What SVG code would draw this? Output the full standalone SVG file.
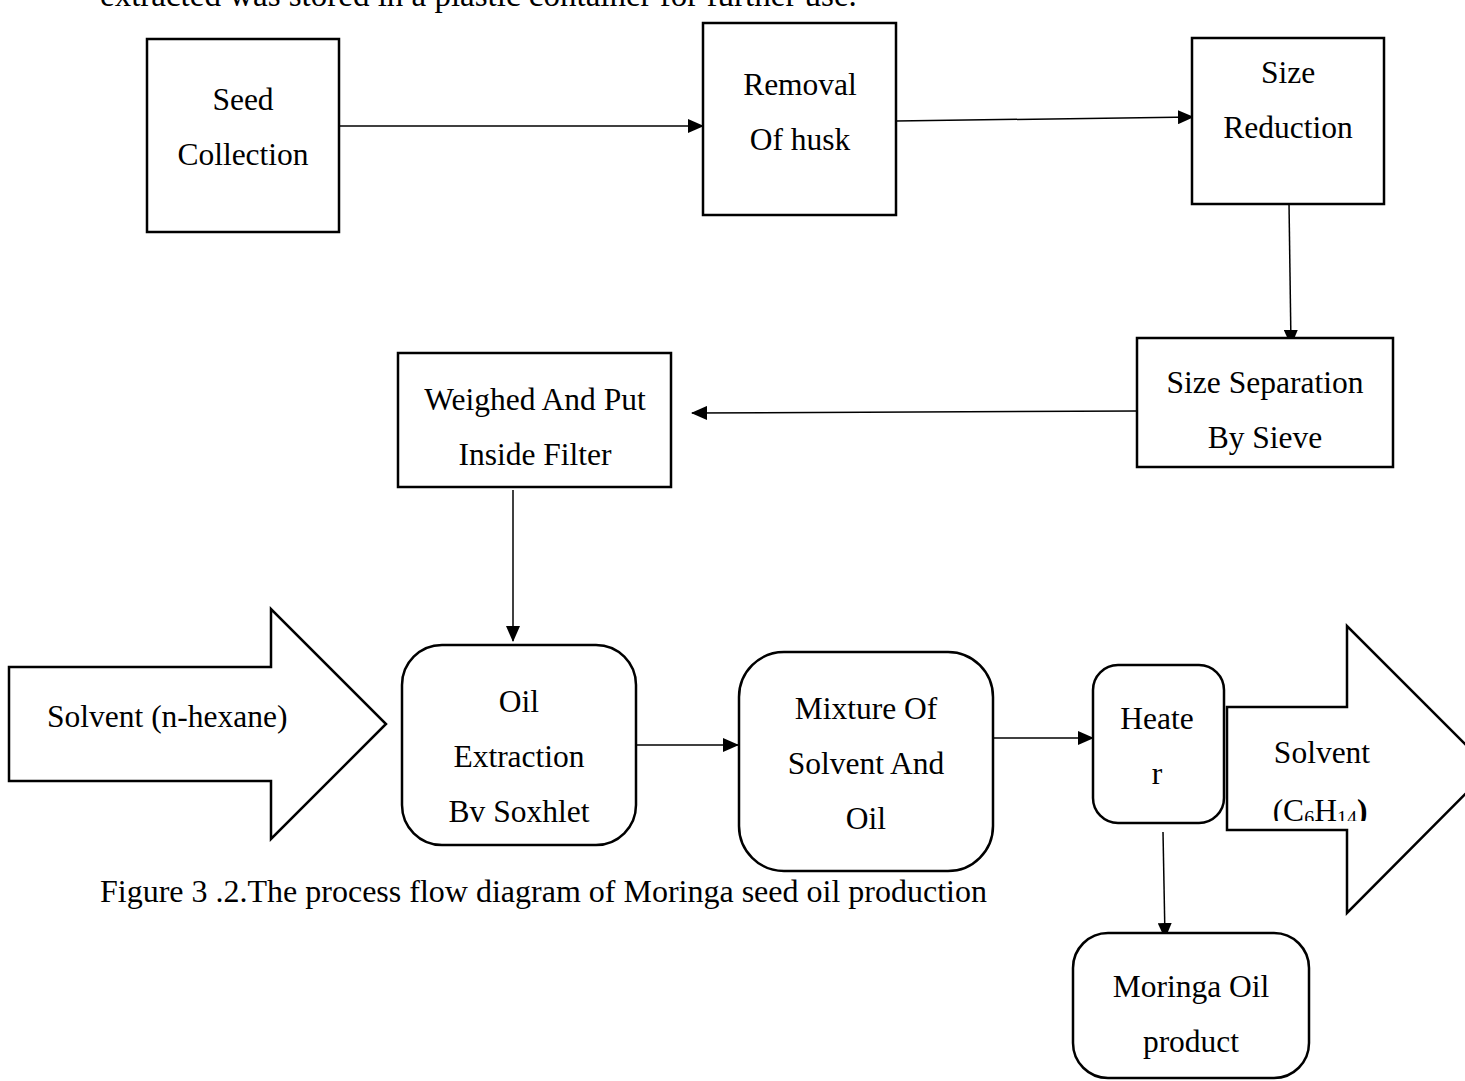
<svg xmlns="http://www.w3.org/2000/svg" width="1465" height="1081" viewBox="0 0 1465 1081">
<style>
text{font-family:"Liberation Serif","Times New Roman",serif;font-size:31.5px;fill:#000}
.c{text-anchor:middle}
.para{font-size:33px}
.box{fill:#fff;stroke:#000;stroke-width:2.5}
.conn{fill:none;stroke:#000;stroke-width:1.5}
</style>
<defs>
<marker id="ah" markerUnits="userSpaceOnUse" markerWidth="16" markerHeight="14" refX="15" refY="7" orient="auto">
<path d="M0,0 L16,7 L0,14 Z" fill="#000"/>
</marker>
<clipPath id="clipC"><rect x="1226" y="700" width="240" height="121"/></clipPath>
</defs>
<rect width="1465" height="1081" fill="#fff"/>
<text class="para" x="100" y="6">extracted was stored in a plastic container for further use.</text>

<g id="connectors">
<line class="conn" x1="339" y1="126" x2="703" y2="126" marker-end="url(#ah)"/>
<line class="conn" x1="896" y1="121" x2="1193" y2="117" marker-end="url(#ah)"/>
<line class="conn" x1="1289" y1="203" x2="1291" y2="345" marker-end="url(#ah)"/>
<line class="conn" x1="1137" y1="411" x2="692" y2="413" marker-end="url(#ah)"/>
<line class="conn" x1="513" y1="490" x2="513" y2="641" marker-end="url(#ah)"/>
<line class="conn" x1="636" y1="745" x2="738" y2="745" marker-end="url(#ah)"/>
<line class="conn" x1="993" y1="738" x2="1093" y2="738" marker-end="url(#ah)"/>
<line class="conn" x1="1163" y1="832" x2="1165" y2="938" marker-end="url(#ah)"/>
</g>

<g id="seed-collection">
<rect class="box" x="147" y="39" width="192" height="193"/>
<text class="c" x="243" y="110">Seed</text>
<text class="c" x="243" y="165">Collection</text>
</g>
<g id="removal-of-husk">
<rect class="box" x="703" y="23" width="193" height="192"/>
<text class="c" x="800" y="95">Removal</text>
<text class="c" x="800" y="150">Of husk</text>
</g>
<g id="size-reduction">
<rect class="box" x="1192" y="38" width="192" height="166"/>
<text class="c" x="1288" y="83">Size</text>
<text class="c" x="1288" y="138">Reduction</text>
</g>
<g id="size-separation">
<rect class="box" x="1137" y="338" width="256" height="129"/>
<text class="c" x="1265" y="393">Size Separation</text>
<text class="c" x="1265" y="448">By Sieve</text>
</g>
<g id="weighed">
<rect class="box" x="398" y="353" width="273" height="134"/>
<text class="c" x="535" y="410">Weighed And Put</text>
<text class="c" x="535" y="465">Inside Filter</text>
</g>
<g id="solvent-in">
<path class="box" d="M9,667 L271,667 L271,609 L386,724 L271,839 L271,781 L9,781 Z"/>
<text x="47" y="727">Solvent (n-hexane)</text>
</g>
<g id="oil-extraction">
<rect class="box" x="402" y="645" width="234" height="200" rx="40" ry="40"/>
<text class="c" x="519" y="712">Oil</text>
<text class="c" x="519" y="767">Extraction</text>
<text class="c" x="519" y="822">Bv Soxhlet</text>
</g>
<g id="mixture">
<rect class="box" x="739" y="652" width="254" height="219" rx="45" ry="45"/>
<text class="c" x="866" y="719">Mixture Of</text>
<text class="c" x="866" y="774">Solvent And</text>
<text class="c" x="866" y="829">Oil</text>
</g>
<g id="heater">
<rect class="box" x="1093" y="665" width="131" height="158" rx="25" ry="25"/>
<text class="c" x="1157" y="729">Heate</text>
<text class="c" x="1157" y="784">r</text>
</g>
<g id="solvent-out">
<path class="box" d="M1227,707 L1347,707 L1347,626 L1490,769 L1347,913 L1347,830 L1227,830 Z"/>
<text class="c" x="1322" y="763">Solvent</text>
<text class="c" x="1320" y="821" clip-path="url(#clipC)">(C<tspan font-size="20" dy="4">6</tspan><tspan dy="-4">H</tspan><tspan font-size="20" dy="4">14</tspan><tspan dy="-4" font-weight="bold">)</tspan></text>
</g>
<g id="moringa-oil">
<rect class="box" x="1073" y="933" width="236" height="145" rx="35" ry="35"/>
<text class="c" x="1191" y="997">Moringa Oil</text>
<text class="c" x="1191" y="1052">product</text>
</g>
<text x="100" y="902" style="font-size:32px">Figure 3 .2.The process flow diagram of Moringa seed oil production</text>
</svg>
